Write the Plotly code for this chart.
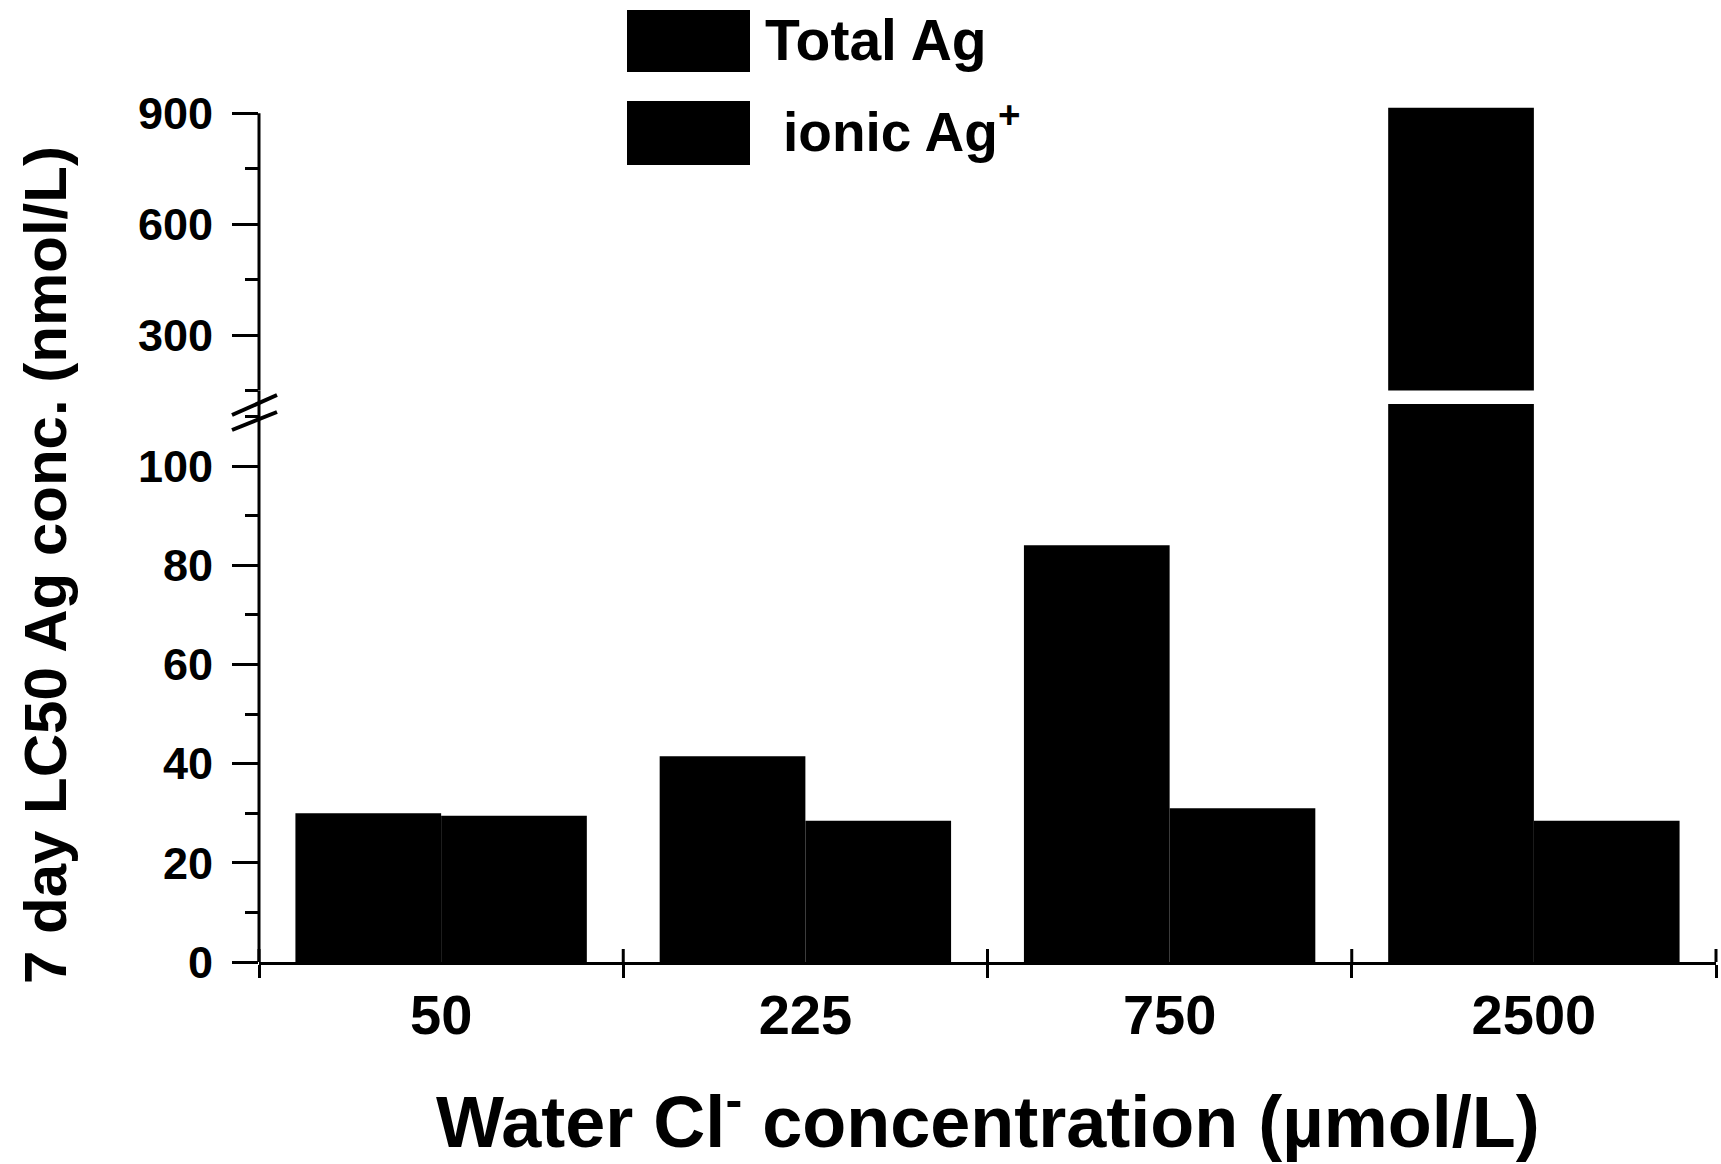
import plotly.graph_objects as go

# ---- data ----
categories = ["50", "225", "750", "2500"]
total_ag = [30.0, 41.5, 84.0, 915.0]
ionic_ag = [29.5, 28.5, 31.0, 28.5]
lower_range = [0, 112.5]
upper_range = [150, 960.3]

# ---- layout geometry (pixels) ----
W, H = 1721, 1164
L, R, T, B = 259, 5, 91, 202
PW, PH = W - L - R, H - T - B


def px_x(px):
    return (px - L) / PW


def px_y(py):
    return (H - B - py) / PH


lower_dom = [0, px_y(404)]
upper_dom = [px_y(390.5), 1]

FONT = "Liberation Sans, Arial, Helvetica, sans-serif"

fig = go.Figure()
for yax in ["y", "y2"]:
    fig.add_trace(go.Bar(x=categories, y=total_ag, name="Total Ag", offset=-0.4, width=0.4,
                         marker=dict(color="black", line=dict(width=0)),
                         xaxis="x", yaxis=yax, showlegend=False))
    fig.add_trace(go.Bar(x=categories, y=ionic_ag, name="ionic Ag+", offset=0.0, width=0.4,
                         marker=dict(color="black", line=dict(width=0)),
                         xaxis="x", yaxis=yax, showlegend=False))

shapes = []
# y axis line pieces
shapes.append(dict(type="line", xref="paper", yref="y", x0=0, x1=0, y0=-2, y1=lower_range[1],
                   line=dict(color="black", width=3)))
shapes.append(dict(type="line", xref="paper", yref="paper", x0=0, x1=0, y0=lower_dom[1], y1=upper_dom[0],
                   line=dict(color="black", width=3)))
shapes.append(dict(type="line", xref="paper", yref="y2", x0=0, x1=0, y0=upper_range[0], y1=900,
                   line=dict(color="black", width=3)))
# axis break slashes
for (xa, ya, xb, yb) in [(232, 415, 277, 395), (232, 430, 277, 412)]:
    shapes.append(dict(type="line", xref="paper", yref="paper", x0=px_x(xa), y0=px_y(ya),
                       x1=px_x(xb), y1=px_y(yb), line=dict(color="black", width=4)))
# inside part of crossing x ticks
for i in range(len(categories) + 1):
    shapes.append(dict(type="line", xref="paper", yref="paper", x0=i / len(categories), x1=i / len(categories),
                       y0=0, y1=13 / PH, line=dict(color="black", width=3)))
# legend boxes
for (x0, y0, x1, y1) in [(627, 10, 750, 72), (627, 101, 750, 165)]:
    shapes.append(dict(type="rect", xref="paper", yref="paper", x0=px_x(x0), x1=px_x(x1),
                       y0=px_y(y1), y1=px_y(y0), fillcolor="black", line=dict(width=0)))

annotations = [
    dict(text="Total Ag", xref="paper", yref="paper", x=px_x(763), y=px_y(40), xanchor="left",
         yanchor="middle", showarrow=False, font=dict(family=FONT, size=57, color="black", weight="bold")),
    dict(text="ionic Ag<sup>+</sup>", xref="paper", yref="paper", x=px_x(781), y=px_y(128), xanchor="left",
         yanchor="middle", showarrow=False, font=dict(family=FONT, size=55, color="black", weight="bold")),
    dict(text="7 day LC50 Ag conc. (nmol/L)", xref="paper", yref="paper", x=px_x(45), y=px_y(565),
         xanchor="center", yanchor="middle", textangle=-90, showarrow=False,
         font=dict(family=FONT, size=60, color="black", weight="bold")),
    dict(text="Water Cl<sup>-</sup> concentration (µmol/L)", xref="paper", yref="paper", x=px_x(988),
         y=px_y(1116), xanchor="center", yanchor="middle", showarrow=False,
         font=dict(family=FONT, size=72, color="black", weight="bold")),
]

fig.update_layout(
    width=W, height=H,
    margin=dict(l=L, r=R, t=T, b=B, pad=0),
    paper_bgcolor="white", plot_bgcolor="white",
    barmode="overlay",
    showlegend=False,
    shapes=shapes,
    annotations=annotations,
    xaxis=dict(type="category", range=[-0.5, 3.5], tickson="boundaries", ticks="outside",
               ticklen=13, tickwidth=3, tickcolor="black", showline=True, linewidth=3, linecolor="black",
               showgrid=False, zeroline=False, anchor="y", ticklabelstandoff=2,
               tickfont=dict(family=FONT, size=56, color="black", weight="bold")),
    yaxis=dict(domain=lower_dom, range=lower_range, tickmode="linear", tick0=0, dtick=20,
               ticks="outside", ticklen=26, tickwidth=3, tickcolor="black",
               minor=dict(dtick=10, tick0=0, ticks="outside", ticklen=13, tickwidth=3, tickcolor="black"),
               showline=False, showgrid=False, zeroline=False, anchor="x", ticklabelstandoff=10,
               tickfont=dict(family=FONT, size=45, color="black", weight="bold")),
    yaxis2=dict(domain=upper_dom, range=upper_range, tickmode="linear", tick0=0, dtick=300,
                ticks="outside", ticklen=26, tickwidth=3, tickcolor="black",
                minor=dict(dtick=150, tick0=0, ticks="outside", ticklen=13, tickwidth=3, tickcolor="black"),
                showline=False, showgrid=False, zeroline=False, anchor="x", ticklabelstandoff=10,
                tickfont=dict(family=FONT, size=45, color="black", weight="bold")),
)

fig.write_html("out.html", config={"displayModeBar": False},
               post_script="document.body.style.margin='0';document.body.style.overflow='hidden';")
